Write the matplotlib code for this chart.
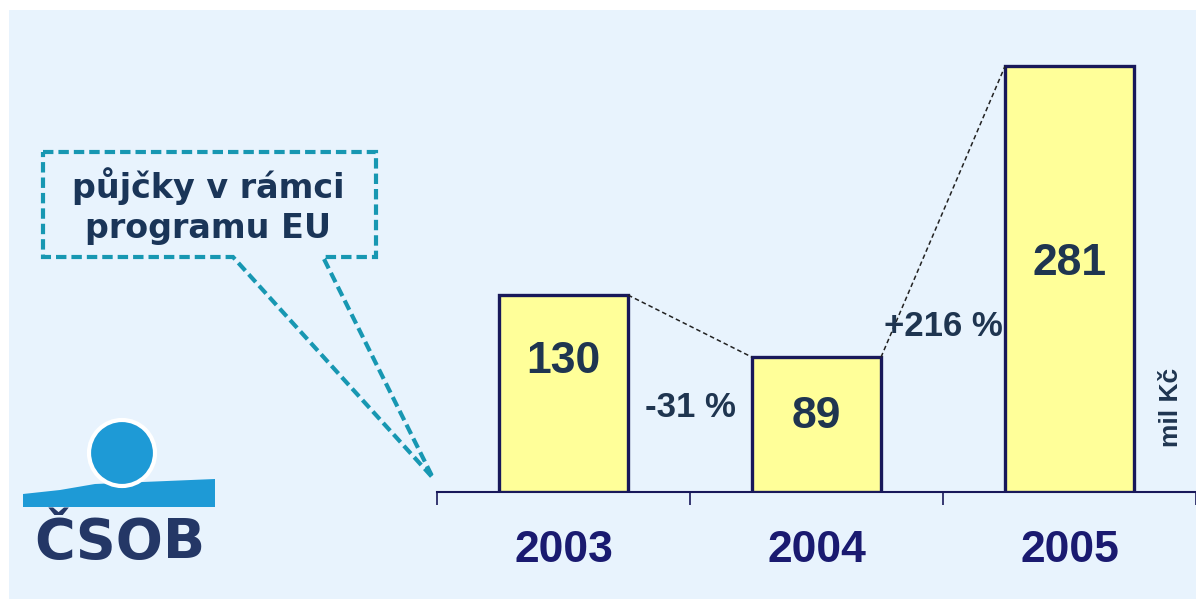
import matplotlib
matplotlib.use("Agg")
import matplotlib.pyplot as plt
from matplotlib.patches import Rectangle, Polygon, Circle

# data
years = ["2003", "2004", "2005"]
values = [130, 89, 281]
changes = ["-31 %", "+216 %"]
unit = "mil Kč"
callout = "půjčky v rámci\nprogramu EU"
logo_text = "ČSOB"

# where the value labels sit inside the bars (data units)
value_label_y = [86, 50, 151]
change_label_y = [56, 109]

bg = "#E8F3FD"
bar_fill = "#FFFF99"
navy = "#18185A"
slate = "#1F3550"
teal = "#1797B2"
logo_blue = "#1E9AD6"
logo_navy = "#243766"

W, H = 1196, 599
fig = plt.figure(figsize=(W / 100, H / 100), dpi=100, facecolor="white")

# overlay axes in pixel coordinates for the background, callout and logo
ov = fig.add_axes([0, 0, 1, 1])
ov.set_xlim(0, W)
ov.set_ylim(H, 0)
ov.axis("off")
ov.add_patch(Rectangle((9, 10), W - 9, H - 10, facecolor=bg, edgecolor="none"))

# callout box with tail
ov.add_patch(Polygon([(43, 152), (376, 152), (376, 257), (323, 257), (433, 478),
                      (233, 257), (43, 257)], closed=True, facecolor="none",
                     edgecolor=teal, lw=3.0, linestyle=(0, (2.5, 1.2)),
                     joinstyle="miter"))
ov.text(208, 206, callout, ha="center", va="center", fontsize=24,
        fontweight="bold", color="#1A3558", family="DejaVu Sans",
        linespacing=1.3)

# logo
ov.add_patch(Polygon([(23, 494), (60, 490), (95, 484), (215, 479), (215, 507), (23, 507)],
                     closed=True, facecolor=logo_blue, edgecolor="none"))
ov.add_patch(Circle((122, 453), 33, facecolor=logo_blue, edgecolor="white", lw=3))
ov.text(120, 543, logo_text, ha="center", va="center", fontsize=40,
        fontweight="heavy", color=logo_navy, family="DejaVu Sans")

# bar chart
px_per_unit = 1.515
ax = fig.add_axes([437 / W, 107 / H, 759 / W, 300 * px_per_unit / H])
ax.patch.set_alpha(0)
x = list(range(len(years)))
bw = 0.51
ax.bar(x, values, width=bw, color=bar_fill, edgecolor=navy, linewidth=2.4, zorder=3)
ax.set_xlim(-0.5, 2.5)
ax.set_ylim(0, 300)

for s in ["top", "left", "right"]:
    ax.spines[s].set_visible(False)
ax.spines["bottom"].set_color(navy)
ax.spines["bottom"].set_linewidth(1.5)
ax.set_yticks([])
ax.set_xticks([-0.5, 0.5, 1.5, 2.5])
ax.set_xticklabels([])
ax.tick_params(axis="x", direction="out", length=9, width=1.2, color=navy)

for i, y in enumerate(years):
    ax.annotate(y, xy=(i, 0), xytext=(0, -42), textcoords="offset points",
                ha="center", va="center", fontsize=32, fontweight="bold",
                color="#1A1A70", family="Liberation Sans", annotation_clip=False)

for i, v in enumerate(values):
    ax.text(i, value_label_y[i], str(v), ha="center", va="center", fontsize=32,
            fontweight="bold", color=slate, family="Liberation Sans", zorder=4)

# dashed connectors between bar tops and change labels
for i in range(len(values) - 1):
    ax.plot([i + bw / 2, i + 1 - bw / 2], [values[i], values[i + 1]],
            color="#222222", lw=1.1, linestyle=(0, (3, 2)), zorder=4)
    ax.text(i + 0.5, change_label_y[i], changes[i], ha="center", va="center",
            fontsize=25, fontweight="bold", color=slate,
            family="Liberation Sans", zorder=5)

ax.text(2.4, 56, unit, rotation=90, ha="center", va="center", fontsize=19,
        fontweight="bold", color=slate, family="Liberation Sans")

fig.savefig("out.png", dpi=100, facecolor="white")
